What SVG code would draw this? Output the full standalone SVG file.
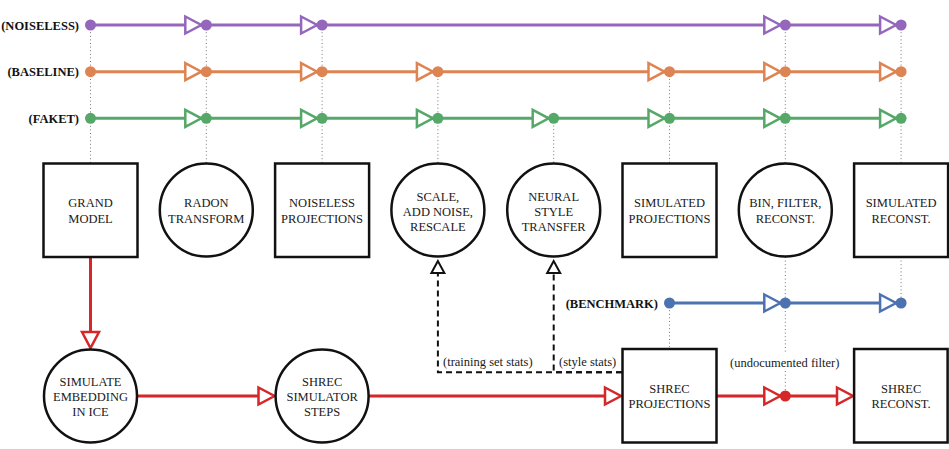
<svg xmlns="http://www.w3.org/2000/svg" xmlns:xlink="http://www.w3.org/1999/xlink" width="949" height="449" viewBox="0 0 949 449">
<style>
.node{fill:#fff;stroke:#111;stroke-width:2.5}
.nt{font-family:"Liberation Serif","Times New Roman",serif;font-size:12.5px;fill:#1a1a1a;text-anchor:middle}
.lbl{font-family:"Liberation Serif","Times New Roman",serif;font-size:12.5px;fill:#1a1a1a}
.row{font-family:"Liberation Serif","Times New Roman",serif;font-size:12.5px;font-weight:bold;fill:#111;text-anchor:end}
.dot{stroke:#777;stroke-width:1;stroke-dasharray:1 2.6;fill:none}
.ln{fill:none;stroke-width:3}
.ah{fill:#fff;stroke-width:2.5;stroke-linejoin:miter}
.pu{stroke:#9467bd}.puf{fill:#9467bd}
.or{stroke:#dd8452}.orf{fill:#dd8452}
.gr{stroke:#55a868}.grf{fill:#55a868}
.bl{stroke:#4c72b0}.blf{fill:#4c72b0}
.rd{stroke:#d62728}.rdf{fill:#d62728}
.dash{fill:none;stroke:#111;stroke-width:2;stroke-dasharray:6 4}
</style>
<defs>
<path id="ar" d="M-16,-8.5 L0,0 L-16,8.5 Z"/>
<path id="ard" d="M-8.5,-16 L0,0 L8.5,-16 Z"/>
<path id="arb" d="M0,0 L-6.5,12 L6.5,12 Z"/>
</defs>

<g id="dotted-guides">
<line class="dot" x1="90.5" y1="25" x2="90.5" y2="163"/>
<line class="dot" x1="206.3" y1="25" x2="206.3" y2="163"/>
<line class="dot" x1="322.1" y1="25" x2="322.1" y2="163"/>
<line class="dot" x1="437.9" y1="71.7" x2="437.9" y2="163"/>
<line class="dot" x1="553.7" y1="118.3" x2="553.7" y2="163"/>
<line class="dot" x1="669.5" y1="71.7" x2="669.5" y2="163"/>
<line class="dot" x1="785.3" y1="25" x2="785.3" y2="163"/>
<line class="dot" x1="901.1" y1="25" x2="901.1" y2="163"/>
<line class="dot" x1="785.3" y1="257" x2="785.3" y2="354"/>
<line class="dot" x1="785.3" y1="371" x2="785.3" y2="396"/>
<line class="dot" x1="901.1" y1="257" x2="901.1" y2="303"/>
<line class="dot" x1="669.5" y1="303" x2="669.5" y2="349"/>
</g>

<g id="connectors">
<!-- NOISELESS -->
<line class="ln pu" x1="90.5" y1="25" x2="901.1" y2="25"/>
<use href="#ar" class="ah pu" x="201.3" y="25"/>
<use href="#ar" class="ah pu" x="317.1" y="25"/>
<use href="#ar" class="ah pu" x="780.3" y="25"/>
<use href="#ar" class="ah pu" x="896.1" y="25"/>
<g class="puf">
<circle cx="90.5" cy="25" r="5.5"/><circle cx="206.3" cy="25" r="5.5"/><circle cx="322.1" cy="25" r="5.5"/><circle cx="785.3" cy="25" r="5.5"/><circle cx="901.1" cy="25" r="5.5"/>
</g>
<!-- BASELINE -->
<line class="ln or" x1="90.5" y1="71.7" x2="901.1" y2="71.7"/>
<use href="#ar" class="ah or" x="201.3" y="71.7"/>
<use href="#ar" class="ah or" x="317.1" y="71.7"/>
<use href="#ar" class="ah or" x="432.9" y="71.7"/>
<use href="#ar" class="ah or" x="664.5" y="71.7"/>
<use href="#ar" class="ah or" x="780.3" y="71.7"/>
<use href="#ar" class="ah or" x="896.1" y="71.7"/>
<g class="orf">
<circle cx="90.5" cy="71.7" r="5.5"/><circle cx="206.3" cy="71.7" r="5.5"/><circle cx="322.1" cy="71.7" r="5.5"/><circle cx="437.9" cy="71.7" r="5.5"/><circle cx="669.5" cy="71.7" r="5.5"/><circle cx="785.3" cy="71.7" r="5.5"/><circle cx="901.1" cy="71.7" r="5.5"/>
</g>
<!-- FAKET -->
<line class="ln gr" x1="90.5" y1="118.3" x2="901.1" y2="118.3"/>
<use href="#ar" class="ah gr" x="201.3" y="118.3"/>
<use href="#ar" class="ah gr" x="317.1" y="118.3"/>
<use href="#ar" class="ah gr" x="432.9" y="118.3"/>
<use href="#ar" class="ah gr" x="548.7" y="118.3"/>
<use href="#ar" class="ah gr" x="664.5" y="118.3"/>
<use href="#ar" class="ah gr" x="780.3" y="118.3"/>
<use href="#ar" class="ah gr" x="896.1" y="118.3"/>
<g class="grf">
<circle cx="90.5" cy="118.3" r="5.5"/><circle cx="206.3" cy="118.3" r="5.5"/><circle cx="322.1" cy="118.3" r="5.5"/><circle cx="437.9" cy="118.3" r="5.5"/><circle cx="553.7" cy="118.3" r="5.5"/><circle cx="669.5" cy="118.3" r="5.5"/><circle cx="785.3" cy="118.3" r="5.5"/><circle cx="901.1" cy="118.3" r="5.5"/>
</g>
<!-- BENCHMARK -->
<line class="ln bl" x1="669.5" y1="303" x2="901.1" y2="303"/>
<use href="#ar" class="ah bl" x="780.3" y="303"/>
<use href="#ar" class="ah bl" x="896.1" y="303"/>
<g class="blf">
<circle cx="669.5" cy="303" r="5.5"/><circle cx="785.3" cy="303" r="5.5"/><circle cx="901.1" cy="303" r="5.5"/>
</g>
<!-- red SHREC path -->
<line class="ln rd" x1="90.5" y1="257" x2="90.5" y2="333"/>
<use href="#ard" class="ah rd" x="90.5" y="348"/>
<line class="ln rd" x1="137" y1="396" x2="260" y2="396"/>
<use href="#ar" class="ah rd" x="274.5" y="396"/>
<line class="ln rd" x1="368.5" y1="396" x2="606" y2="396"/>
<use href="#ar" class="ah rd" x="621" y="396"/>
<line class="ln rd" x1="716" y1="396" x2="840" y2="396"/>
<use href="#ar" class="ah rd" x="780.3" y="396"/>
<use href="#ar" class="ah rd" x="853" y="396"/>
<circle class="rdf" cx="785.3" cy="396" r="5.5"/>
<!-- dashed stats -->
<path class="dash" d="M622,372.3 H437.9 V272"/>
<path class="dash" d="M622,372.3 H553.7 V272"/>
<use href="#arb" class="ah" style="stroke:#111;stroke-width:2" x="437.9" y="261"/>
<use href="#arb" class="ah" style="stroke:#111;stroke-width:2" x="553.7" y="261"/>
</g>

<g id="row-labels">
<text class="row" x="79" y="29.5">(NOISELESS)</text>
<text class="row" x="79" y="76">(BASELINE)</text>
<text class="row" x="79" y="122.5">(FAKET)</text>
<text class="row" x="658" y="308">(BENCHMARK)</text>
</g>

<g id="edge-labels">
<text class="lbl" x="443" y="366">(training set stats)</text>
<text class="lbl" x="559" y="366">(style stats)</text>
<text class="lbl" x="730" y="367">(undocumented filter)</text>
</g>

<g id="grand-model"><rect class="node" x="43.5" y="163.5" width="94" height="93.5"/>
<text class="nt" x="90.5" y="207">GRAND</text><text class="nt" x="90.5" y="223">MODEL</text></g>
<g id="radon-transform"><circle class="node" cx="206.3" cy="210" r="46.5"/>
<text class="nt" x="206.3" y="207">RADON</text><text class="nt" x="206.3" y="223">TRANSFORM</text></g>
<g id="noiseless-projections"><rect class="node" x="275.1" y="163.5" width="94" height="93.5"/>
<text class="nt" x="322.1" y="207">NOISELESS</text><text class="nt" x="322.1" y="223">PROJECTIONS</text></g>
<g id="scale-noise"><circle class="node" cx="437.9" cy="210" r="46.5"/>
<text class="nt" x="437.9" y="201">SCALE,</text><text class="nt" x="437.9" y="216">ADD NOISE,</text><text class="nt" x="437.9" y="231">RESCALE</text></g>
<g id="neural-style-transfer"><circle class="node" cx="553.7" cy="210" r="46.5"/>
<text class="nt" x="553.7" y="201">NEURAL</text><text class="nt" x="553.7" y="216">STYLE</text><text class="nt" x="553.7" y="231">TRANSFER</text></g>
<g id="simulated-projections"><rect class="node" x="622.5" y="163.5" width="94" height="93.5"/>
<text class="nt" x="669.5" y="207">SIMULATED</text><text class="nt" x="669.5" y="223">PROJECTIONS</text></g>
<g id="bin-filter-reconst"><circle class="node" cx="785.3" cy="210" r="46.5"/>
<text class="nt" x="785.3" y="207">BIN, FILTER,</text><text class="nt" x="785.3" y="223">RECONST.</text></g>
<g id="simulated-reconst"><rect class="node" x="854.1" y="163.5" width="94" height="93.5"/>
<text class="nt" x="901.1" y="207">SIMULATED</text><text class="nt" x="901.1" y="223">RECONST.</text></g>

<g id="simulate-embedding"><circle class="node" cx="90.5" cy="396" r="46.5"/>
<text class="nt" x="90.5" y="386">SIMULATE</text><text class="nt" x="90.5" y="401">EMBEDDING</text><text class="nt" x="90.5" y="416">IN ICE</text></g>
<g id="shrec-simulator-steps"><circle class="node" cx="322.1" cy="396" r="46.5"/>
<text class="nt" x="322.1" y="386">SHREC</text><text class="nt" x="322.1" y="401">SIMULATOR</text><text class="nt" x="322.1" y="416">STEPS</text></g>
<g id="shrec-projections"><rect class="node" x="622.5" y="349" width="94" height="93.5"/>
<text class="nt" x="669.5" y="392.5">SHREC</text><text class="nt" x="669.5" y="408">PROJECTIONS</text></g>
<g id="shrec-reconst"><rect class="node" x="854.1" y="349" width="93.5" height="93.5"/>
<text class="nt" x="901.1" y="392.5">SHREC</text><text class="nt" x="901.1" y="408">RECONST.</text></g>
</svg>
